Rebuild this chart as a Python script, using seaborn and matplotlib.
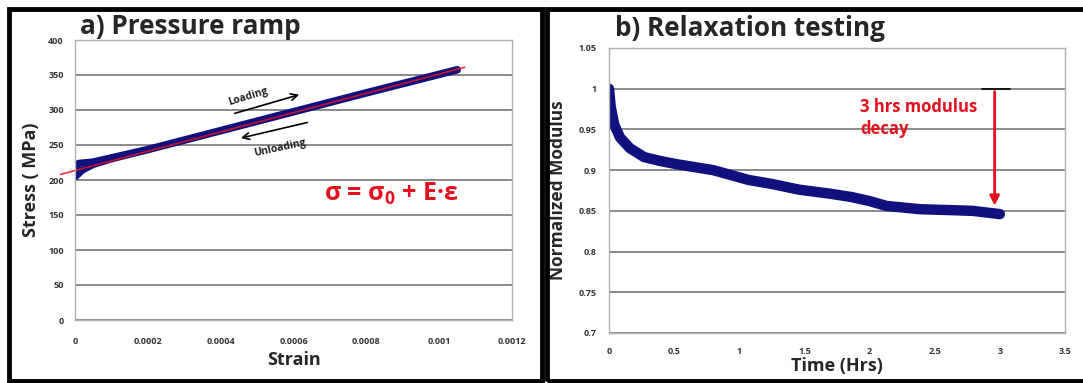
import matplotlib
matplotlib.use("Agg")
import matplotlib.pyplot as plt
import seaborn as sns
import pandas as pd
from matplotlib.patches import Rectangle

# a) pressure ramp
load_strain = [0, 0.00001, 0.00005, 0.0001, 0.0002, 0.0004, 0.0006, 0.0008, 0.00105]
load_stress = [206, 224, 226, 232, 244, 271, 298, 325, 358]
unload_strain = [0.00105, 0.0008, 0.0006, 0.0004, 0.0002, 0.0001, 0.00005, 0.00002, 0]
unload_stress = [357, 324, 297, 270, 243, 230, 222, 214, 204]
fit_strain = [-0.00004, 0.00107]
fit_stress = [208, 361]
a_xticks = [0, 0.0002, 0.0004, 0.0006, 0.0008, 0.001, 0.0012]
a_xlabels = ["0", "0.0002", "0.0004", "0.0006", "0.0008", "0.001", "0.0012"]
a_yticks = [0, 50, 100, 150, 200, 250, 300, 350, 400]

# b) relaxation testing
time_hrs = [0, 0.013, 0.04, 0.085, 0.16, 0.27, 0.4, 0.53, 0.8, 1.07, 1.25, 1.46, 1.7,
            1.86, 2.0, 2.13, 2.39, 2.6, 2.79, 3.0]
modulus = [1.0, 0.978, 0.956, 0.94, 0.927, 0.916, 0.911, 0.907, 0.9, 0.888, 0.883,
           0.876, 0.871, 0.867, 0.862, 0.856, 0.852, 0.851, 0.85, 0.846]
b_xticks = [0, 0.5, 1, 1.5, 2, 2.5, 3, 3.5]
b_xlabels = ["0", "0.5", "1", "1.5", "2", "2.5", "3", "3.5"]
b_yticks = [0.7, 0.75, 0.8, 0.85, 0.9, 0.95, 1.0, 1.05]
b_ylabels = ["0.7", "0.75", "0.8", "0.85", "0.9", "0.95", "1", "1.05"]

sns.set_theme(style="white")
plt.rcParams['font.family'] = ['Open Sans', 'DejaVu Sans']
plt.rcParams['mathtext.fontset'] = 'custom'
plt.rcParams['mathtext.rm'] = 'Open Sans:bold'
plt.rcParams['mathtext.it'] = 'Open Sans:bold'
plt.rcParams['mathtext.bf'] = 'Open Sans:bold'

navy = "#10107e"
red = "#e3101f"
W, H = 1083, 383

fig = plt.figure(figsize=(W / 100, H / 100), dpi=100)
ax1 = fig.add_axes([75 / W, 1 - 320 / H, 437 / W, 280 / H])
ax2 = fig.add_axes([609 / W, 1 - 333 / H, 456 / W, 285 / H])

def style_axes(ax):
    ax.grid(axis='y', color='#8a8a8a', linewidth=1.4)
    ax.grid(axis='x', visible=False)
    for s in ax.spines.values():
        s.set_color('#b0b0b0')
        s.set_linewidth(1.0)
    ax.tick_params(axis='both', length=0, labelsize=6.5, labelcolor='#333333')
    for lab in ax.get_xticklabels() + ax.get_yticklabels():
        lab.set_fontweight('bold')

# panel a
df_load = pd.DataFrame({"strain": load_strain, "stress": load_stress})
df_unload = pd.DataFrame({"strain": unload_strain, "stress": unload_stress})
sns.lineplot(data=df_load, x="strain", y="stress", sort=False, ax=ax1, color=navy, linewidth=5)
sns.lineplot(data=df_unload, x="strain", y="stress", sort=False, ax=ax1, color=navy, linewidth=5)
ax1.plot(fit_strain, fit_stress, color=red, linewidth=1.2, clip_on=False, alpha=0.85)
ax1.set_xlim(0, 0.0012)
ax1.set_ylim(0, 400)
ax1.set_xticks(a_xticks)
ax1.set_xticklabels(a_xlabels)
ax1.set_yticks(a_yticks)
ax1.tick_params(axis='x', pad=12)
ax1.tick_params(axis='y', pad=8)
ax1.set_xlabel("Strain", fontsize=13, fontweight='bold', labelpad=4)
ax1.set_ylabel("Stress ( MPa)", fontsize=13, fontweight='bold', labelpad=6)
style_axes(ax1)

ax1.annotate("", xy=(0.000623, 323), xytext=(0.000431, 294),
             arrowprops=dict(arrowstyle='->', color='black', lw=1.2))
ax1.annotate("", xy=(0.000448, 259), xytext=(0.000645, 283),
             arrowprops=dict(arrowstyle='->', color='black', lw=1.2))
ax1.text(0.000475, 319, "Loading", fontsize=7.5, fontweight='bold', rotation=17,
         ha='center', va='center', color='#222222')
ax1.text(0.000563, 245, "Unloading", fontsize=7.5, fontweight='bold', rotation=12,
         ha='center', va='center', color='#222222')
ax1.text(0.000868, 180, "σ = σ$_0$ + E·ε", fontsize=18, fontweight='bold', color=red,
         ha='center', va='center')

# panel b
df_relax = pd.DataFrame({"time": time_hrs, "modulus": modulus})
sns.lineplot(data=df_relax, x="time", y="modulus", ax=ax2, color=navy, linewidth=7.5,
             solid_capstyle='round')
ax2.set_xlim(0, 3.5)
ax2.set_ylim(0.7, 1.05)
ax2.set_xticks(b_xticks)
ax2.set_xticklabels(b_xlabels)
ax2.set_yticks(b_yticks)
ax2.set_yticklabels(b_ylabels)
ax2.tick_params(axis='x', pad=10)
ax2.tick_params(axis='y', pad=9)
ax2.set_xlabel("Time (Hrs)", fontsize=13, fontweight='bold', labelpad=1)
ax2.set_ylabel("Normalized Modulus", fontsize=12.5, fontweight='bold', labelpad=8)
style_axes(ax2)

ax2.plot([2.86, 3.08], [1.0, 1.0], color='black', linewidth=1.2)
ax2.annotate("", xy=(2.96, 0.853), xytext=(2.96, 1.0),
             arrowprops=dict(arrowstyle='-|>', color=red, lw=2, mutation_scale=14))
ax2.text(1.93, 0.988, "3 hrs modulus\ndecay", fontsize=12, fontweight='bold', color=red,
         ha='left', va='top', linespacing=1.25)

# titles
fig.text(190 / W, 1 - 27 / H, "a) Pressure ramp", fontsize=18.8, fontweight='bold',
         ha='center', va='center')
fig.text(750 / W, 1 - 29 / H, "b) Relaxation testing", fontsize=18.8, fontweight='bold',
         ha='center', va='center')

# panel frames
lw = 3.5
fig.patches.append(Rectangle((9 / W, 1 - 381 / H), 533 / W, 372 / H, fill=False,
                             edgecolor='black', linewidth=lw, transform=fig.transFigure))
fig.patches.append(Rectangle((547 / W, 1 - 381 / H), 545 / W, 372 / H, fill=False,
                             edgecolor='black', linewidth=lw, transform=fig.transFigure))

fig.savefig("out.png", dpi=100)
